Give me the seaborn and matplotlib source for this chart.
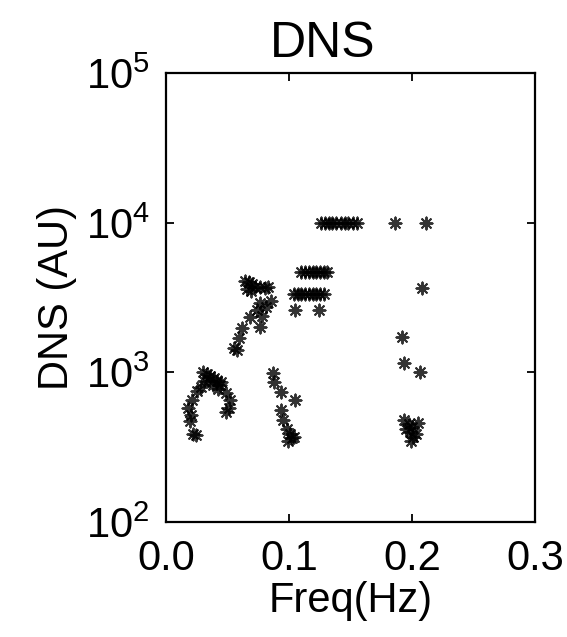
import numpy as np
import pandas as pd
import matplotlib
matplotlib.use("Agg")
import matplotlib.pyplot as plt
import seaborn as sns

# ── Data ──────────────────────────────────────────────────────────────────────
freq = [
    # top row ~1e4
    0.126, 0.129, 0.132, 0.135, 0.138, 0.142, 0.145, 0.148, 0.152, 0.155, 0.186, 0.211,
    # row ~4700
    0.110, 0.113, 0.116, 0.119, 0.122, 0.125, 0.128, 0.131,
    # row ~3300
    0.104, 0.107, 0.110, 0.113, 0.116, 0.119, 0.122, 0.125, 0.128,
    0.105, 0.124,
    # cluster ~3800
    0.064, 0.067, 0.070, 0.066, 0.072, 0.076, 0.080, 0.083, 0.069,
    # descending branch
    0.076, 0.085, 0.081, 0.074, 0.078, 0.068, 0.076, 0.062, 0.059, 0.058, 0.055,
    # low cluster ~1e3
    0.030, 0.033, 0.036, 0.039, 0.041, 0.045, 0.042, 0.038, 0.044, 0.049, 0.025, 0.028,
    0.021, 0.018, 0.020, 0.019, 0.022, 0.024, 0.052, 0.049, 0.051, 0.035, 0.031,
    # second low cluster
    0.087, 0.088, 0.093, 0.105, 0.093, 0.095, 0.098, 0.101, 0.102, 0.099, 0.104,
    # right column ~0.2
    0.208, 0.192, 0.193, 0.206, 0.193, 0.197, 0.200, 0.205, 0.198, 0.201, 0.199, 0.203, 0.195,
]
dns = [
    10000, 10000, 10000, 10000, 10000, 10000, 10000, 10000, 10000, 10000, 10000, 10000,
    4700, 4700, 4700, 4700, 4700, 4700, 4700, 4700,
    3330, 3330, 3330, 3330, 3330, 3330, 3330, 3330, 3330,
    2610, 2610,
    4100, 4000, 3900, 3600, 3700, 3750, 3650, 3700, 3500,
    2900, 3000, 2750, 2600, 2400, 2350, 2000, 1970, 1700, 1420, 1450,
    1000, 980, 950, 920, 880, 860, 780, 820, 820, 730, 750, 800,
    650, 580, 520, 470, 390, 380, 650, 540, 580, 880, 870,
    990, 860, 740, 650, 560, 480, 420, 390, 365, 350, 370,
    3650, 1720, 1150, 1000, 480, 450, 430, 460, 400, 370, 350, 390, 420,
]
df = pd.DataFrame({"freq": freq, "dns": dns})

# ── Plot ──────────────────────────────────────────────────────────────────────
sns.set_style("ticks")
plt.rcParams["font.family"] = ["Liberation Sans", "DejaVu Sans"]
for k in ["text.color", "axes.labelcolor", "xtick.color", "ytick.color", "axes.edgecolor"]:
    plt.rcParams[k] = "black"

fig = plt.figure(figsize=(5.67, 6.37), dpi=100)
ax = fig.add_axes([0.293, 0.1805, 0.651, 0.7045])

sns.scatterplot(data=df, x="freq", y="dns", ax=ax, marker=(8, 2, 0),
                color="black", s=75, linewidth=1.4, alpha=0.8, legend=False)

ax.set_yscale("log")
ax.set_xlim(0, 0.3)
ax.set_ylim(1e2, 1e5)
ax.set_xticks([0.0, 0.1, 0.2, 0.3])
ax.set_xticklabels(["0.0", "0.1", "0.2", "0.3"])
ax.set_yticks([1e2, 1e3, 1e4, 1e5])
ax.set_yticklabels([r"$\mathregular{10^{2}}$", r"$\mathregular{10^{3}}$",
                    r"$\mathregular{10^{4}}$", r"$\mathregular{10^{5}}$"])
ax.minorticks_off()
ax.tick_params(direction="in", length=6, width=1.3, top=True, right=True,
               labelsize=30, pad=12)
for sp in ax.spines.values():
    sp.set_linewidth(1.6)
    sp.set_visible(True)

ax.set_xlabel("Freq(Hz)", fontsize=30, labelpad=2)
ax.set_ylabel("DNS (AU)", fontsize=30, labelpad=6)
ax.set_title("DNS", fontsize=36, x=0.425, pad=12)

plt.savefig("out.png", dpi=100)
plt.close()
